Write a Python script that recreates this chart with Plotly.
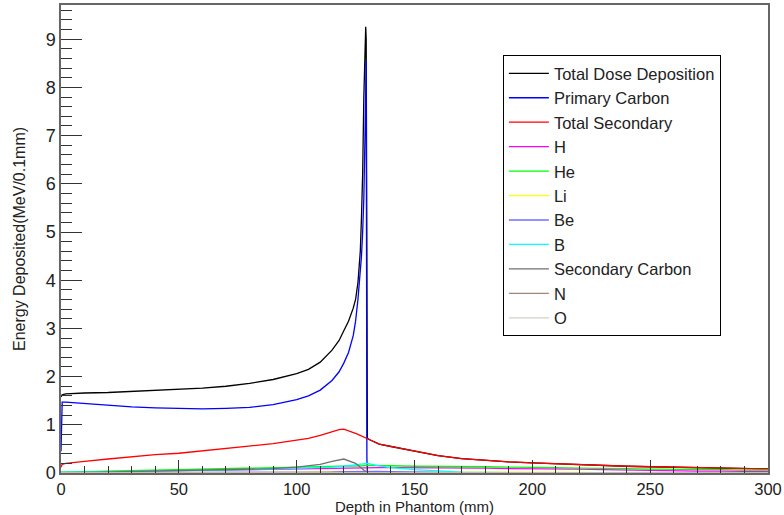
import plotly.graph_objects as go

# ---- data ----
depth_main = [0, 0.5, 2, 5, 10, 20, 30, 40, 50, 60, 70, 80, 90, 100, 105, 110, 115, 118,
              120, 122, 124, 125, 126, 127, 127.5, 128, 128.5, 129, 129.3, 129.5, 129.8,
              130, 131, 135, 140, 150, 160, 170, 180, 190, 200, 210, 220, 230, 240, 250,
              260, 270, 280, 290, 300]

total_dose = [1.58, 1.62, 1.64, 1.65, 1.66, 1.67, 1.69, 1.71, 1.73, 1.76, 1.80, 1.86, 1.94,
              2.06, 2.15, 2.30, 2.55, 2.75, 2.95, 3.15, 3.42, 3.60, 3.95, 4.60, 5.30, 6.20,
              7.80, 9.26, 9.26, 9.00, 0.76, 0.72, 0.69, 0.60, 0.55, 0.45, 0.36, 0.30, 0.26,
              0.23, 0.21, 0.19, 0.17, 0.16, 0.14, 0.13, 0.12, 0.105, 0.095, 0.09, 0.085]

primary_carbon = [0.45, 1.47, 1.47, 1.46, 1.44, 1.40, 1.37, 1.35, 1.34, 1.33, 1.34, 1.36, 1.42,
                  1.52, 1.60, 1.72, 1.92, 2.10, 2.28, 2.50, 2.85, 3.15, 3.60, 4.10, 4.50, 5.00,
                  5.70, 7.00, 8.00, 8.55, 0.30, 0, 0, 0, 0, 0, 0, 0, 0, 0, 0, 0, 0, 0, 0, 0,
                  0, 0, 0, 0, 0]

total_secondary = [0.12, 0.18, 0.20, 0.22, 0.24, 0.29, 0.34, 0.38, 0.41, 0.46, 0.51, 0.56, 0.61,
                   0.68, 0.72, 0.78, 0.85, 0.90, 0.91, 0.88, 0.84, 0.82, 0.80, 0.78, 0.77, 0.76,
                   0.75, 0.74, 0.74, 0.73, 0.72, 0.72, 0.69, 0.60, 0.55, 0.45, 0.36, 0.30, 0.26,
                   0.23, 0.21, 0.19, 0.17, 0.16, 0.14, 0.13, 0.12, 0.105, 0.095, 0.09, 0.085]

depth_frag = [0, 10, 20, 30, 40, 50, 60, 70, 80, 90, 100, 110, 115, 120, 125, 128, 130, 135,
              140, 150, 160, 170, 180, 190, 200, 210, 220, 230, 240, 250, 260, 270, 280, 290, 300]

frag_H = [0.01, 0.02, 0.03, 0.04, 0.05, 0.05, 0.06, 0.06, 0.07, 0.08, 0.08, 0.09, 0.10, 0.10,
          0.11, 0.11, 0.11, 0.11, 0.11, 0.11, 0.10, 0.10, 0.10, 0.09, 0.09, 0.08, 0.08, 0.07,
          0.06, 0.06, 0.05, 0.04, 0.04, 0.03, 0.03]
frag_He = [0.02, 0.03, 0.04, 0.05, 0.06, 0.07, 0.08, 0.08, 0.09, 0.10, 0.11, 0.12, 0.13, 0.13,
           0.14, 0.15, 0.16, 0.15, 0.15, 0.14, 0.14, 0.13, 0.13, 0.12, 0.12, 0.11, 0.10, 0.10,
           0.09, 0.08, 0.08, 0.07, 0.07, 0.06, 0.06]
frag_Li = [0.0, 0.0, 0.005, 0.005, 0.005, 0.01, 0.01, 0.01, 0.01, 0.01, 0.01, 0.02, 0.02, 0.03,
           0.03, 0.03, 0.02, 0.02, 0.02, 0.015, 0.015, 0.015, 0.015, 0.015, 0.015, 0.015, 0.015,
           0.005, 0.005, 0.005, 0.005, 0.005, 0.005, 0.005, 0.005]
frag_Be = [0.0, 0.005, 0.005, 0.005, 0.01, 0.01, 0.01, 0.01, 0.01, 0.01, 0.01, 0.02, 0.02, 0.03,
           0.035, 0.04, 0.04, 0.035, 0.03, 0.02, 0.015, 0.01, 0.0, 0.0, 0.0, 0.0, 0.0, 0.0,
           0.0, 0.0, 0.0, 0.0, 0.0, 0.0, 0.0]
frag_B = [0.01, 0.02, 0.03, 0.04, 0.05, 0.055, 0.06, 0.065, 0.07, 0.08, 0.09, 0.11, 0.12, 0.14,
          0.17, 0.19, 0.20, 0.15, 0.11, 0.07, 0.04, 0.02, 0.01, 0.0, 0.0, 0.0, 0.0, 0.0, 0.0,
          0.0, 0.0, 0.0, 0.0, 0.0, 0.0]
frag_C = [0.0, 0.01, 0.02, 0.03, 0.03, 0.04, 0.05, 0.06, 0.07, 0.09, 0.12, 0.18, 0.24, 0.29,
          0.20, 0.07, 0.0, 0.0, 0.0, 0.0, 0.0, 0.0, 0.0, 0.0, 0.0, 0.0, 0.0, 0.0, 0.0, 0.0,
          0.0, 0.0, 0.0, 0.0, 0.0]
frag_N = [0.0, 0.0, 0.0, 0.005, 0.005, 0.005, 0.005, 0.005, 0.01, 0.01, 0.01, 0.015, 0.02, 0.02,
          0.015, 0.005, 0.0, 0.0, 0.0, 0.0, 0.0, 0.0, 0.0, 0.0, 0.0, 0.0, 0.0, 0.0, 0.0, 0.0,
          0.0, 0.0, 0.0, 0.0, 0.0]
frag_O = [0.0, 0.0, 0.0, 0.0, 0.005, 0.005, 0.005, 0.005, 0.005, 0.005, 0.005, 0.01, 0.01, 0.01,
          0.005, 0.0, 0.0, 0.0, 0.0, 0.0, 0.0, 0.0, 0.0, 0.0, 0.0, 0.0, 0.0, 0.0, 0.0, 0.0,
          0.0, 0.0, 0.0, 0.0, 0.0]

series = [
    ("Total Dose Deposition", depth_main, total_dose, "#000000"),
    ("Primary Carbon", depth_main, primary_carbon, "#0000ff"),
    ("Total Secondary", depth_main, total_secondary, "#ff0000"),
    ("H", depth_frag, frag_H, "#ff00ff"),
    ("He", depth_frag, frag_He, "#00ff00"),
    ("Li", depth_frag, frag_Li, "#ffff00"),
    ("Be", depth_frag, frag_Be, "#6f6fff"),
    ("B", depth_frag, frag_B, "#00ffff"),
    ("Secondary Carbon", depth_frag, frag_C, "#707070"),
    ("N", depth_frag, frag_N, "#a08678"),
    ("O", depth_frag, frag_O, "#d8d0c8"),
]

fig = go.Figure()
for i, (name, xs, ys, col) in enumerate(series):
    fig.add_trace(go.Scatter(x=xs, y=ys, name=name, mode="lines",
                             line=dict(color=col, width=1.3),
                             legendgroup="g%d" % i))

font_family = "Liberation Sans, Arial, Helvetica, sans-serif"
fig.update_layout(
    width=784, height=515,
    margin=dict(l=61, r=16, t=5, b=42),
    paper_bgcolor="white", plot_bgcolor="white",
    font=dict(family=font_family, color="#222222"),
    showlegend=True,
    legend=dict(x=0.625, y=0.893, xanchor="left", yanchor="top",
                bordercolor="#000000", borderwidth=1, bgcolor="white",
                font=dict(size=16.5, family=font_family, color="#222222"),
                tracegroupgap=0, itemwidth=40),
    xaxis=dict(range=[0, 300], showgrid=False, zeroline=False, automargin=False,
               showline=True, mirror=True, linecolor="#666666", linewidth=1.5,
               ticks="inside", ticklen=13, tickcolor="#333333", tickwidth=1,
               dtick=50, tick0=0, ticklabelstandoff=0,
               minor=dict(ticks="inside", ticklen=7, dtick=10, tickcolor="#333333", showgrid=False),
               tickfont=dict(size=16.5),
               title=dict(text="Depth in Phantom (mm)", font=dict(size=15), standoff=10)),
    yaxis=dict(range=[0, 9.71], showgrid=False, zeroline=False, automargin=False,
               showline=True, mirror=True, linecolor="#666666", linewidth=1.5,
               ticks="inside", ticklen=21, tickcolor="#333333", tickwidth=1,
               dtick=1, tick0=0,
               minor=dict(ticks="inside", ticklen=11, dtick=0.2, tickcolor="#333333", showgrid=False),
               tickfont=dict(size=18),
               title=dict(text="Energy Deposited(MeV/0.1mm)", font=dict(size=16), standoff=16)),
)

fig.write_html("out.html")
